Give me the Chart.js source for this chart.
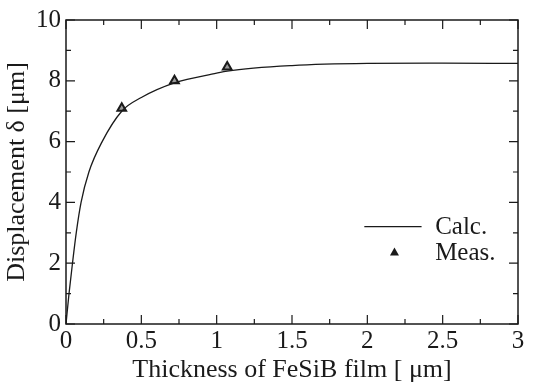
<!DOCTYPE html>
<html>
<head>
<meta charset="utf-8">
<script src="https://cdn.jsdelivr.net/npm/chart.js@4"></script>
<style>
html,body{margin:0;padding:0;background:#fff;}
#c{display:block;}
</style>
</head>
<body>
<canvas id="c" width="535" height="386"></canvas>
<script>
// Calculated curve
const calcX = [0, 0.02, 0.043, 0.068, 0.1, 0.152, 0.24, 0.37, 0.5, 0.72, 1.0, 1.07, 1.5, 2.0, 2.5, 3.0];
const calcY = [0, 1.0, 2.0, 3.0, 4.0, 5.0, 6.0, 7.0, 7.45, 7.93, 8.25, 8.32, 8.5, 8.57, 8.58, 8.57];
// Measured points
const measX = [0.37, 0.72, 1.07];
const measY = [7.1, 8.0, 8.45];
// Axis labels / series names
const xTitle = "Thickness of FeSiB film [ μm]";
const yTitle = "Displacement δ [μm]";
const seriesNames = ["Calc.", "Meas."];

const FONT = "'Liberation Serif', 'DejaVu Serif', serif";
const INK = "#1a1a1a";

const framePlugin = {
  id: 'frame',
  afterDatasetsDraw(chart) {
    const ctx = chart.ctx;
    const a = chart.chartArea;
    const xs = chart.scales.x, ys = chart.scales.y;
    ctx.save();
    ctx.strokeStyle = INK;
    ctx.lineWidth = 1.5;
    ctx.strokeRect(a.left, a.top, a.right - a.left, a.bottom - a.top);
    ctx.lineWidth = 1.2;
    ctx.beginPath();
    for (let v = 0; v <= 3.0001; v += 0.25) {
      const px = xs.getPixelForValue(v);
      const major = Math.abs(v * 2 - Math.round(v * 2)) < 1e-6;
      const L = major ? 9 : 5;
      ctx.moveTo(px, a.bottom); ctx.lineTo(px, a.bottom - L);
      ctx.moveTo(px, a.top); ctx.lineTo(px, a.top + L);
    }
    for (let v = 0; v <= 10.0001; v += 1) {
      const py = ys.getPixelForValue(v);
      const major = (Math.round(v) % 2 === 0);
      const L = major ? 9 : 5;
      ctx.moveTo(a.left, py); ctx.lineTo(a.left + L, py);
      ctx.moveTo(a.right, py); ctx.lineTo(a.right - L, py);
    }
    ctx.stroke();

    // legend
    const lx0 = xs.getPixelForValue(1.98), lx1 = xs.getPixelForValue(2.36);
    const ly0 = ys.getPixelForValue(3.2), ly1 = ys.getPixelForValue(2.37);
    const ds0 = chart.data.datasets[0];
    ctx.strokeStyle = ds0.borderColor;
    ctx.lineWidth = ds0.borderWidth;
    ctx.beginPath(); ctx.moveTo(lx0, ly0); ctx.lineTo(lx1, ly0); ctx.stroke();
    const tx = xs.getPixelForValue(2.18);
    ctx.fillStyle = INK;
    ctx.beginPath();
    ctx.moveTo(tx, ly1 - 4.5); ctx.lineTo(tx + 4.5, ly1 + 3.5); ctx.lineTo(tx - 4.5, ly1 + 3.5); ctx.closePath();
    ctx.fill();
    ctx.font = "25px " + FONT;
    ctx.textBaseline = 'middle';
    ctx.textAlign = 'left';
    const textX = xs.getPixelForValue(2.45);
    ctx.fillText(seriesNames[0], textX, ly0 + 1);
    ctx.fillText(seriesNames[1], textX, ly1 + 1);
    ctx.restore();
  }
};

new Chart(document.getElementById('c'), {
  type: 'scatter',
  data: {
    datasets: [
      {
        label: seriesNames[0],
        type: 'line',
        data: calcX.map((x, i) => ({x: x, y: calcY[i]})),
        borderColor: INK,
        borderWidth: 1.3,
        pointRadius: 0,
        fill: false,
        cubicInterpolationMode: 'monotone'
      },
      {
        label: seriesNames[1],
        data: measX.map((x, i) => ({x: x, y: measY[i]})),
        pointStyle: 'triangle',
        pointRadius: 5,
        borderColor: INK,
        borderWidth: 2,
        backgroundColor: '#9a9a9a'
      }
    ]
  },
  options: {
    responsive: false,
    animation: false,
    layout: {padding: {left: 0, right: 17, top: 16, bottom: 0}},
    plugins: {legend: {display: false}, tooltip: {enabled: false}},
    scales: {
      x: {
        type: 'linear', min: 0, max: 3,
        afterFit(s) { s.height = 62; },
        ticks: {stepSize: 0.5, color: INK, font: {family: FONT, size: 25}, padding: 2, maxRotation: 0,
                callback: v => String(v)},
        grid: {display: false, drawTicks: false},
        border: {display: false},
        title: {display: true, text: xTitle, color: INK, font: {family: FONT, size: 26}, padding: {top: 0, bottom: 0}}
      },
      y: {
        min: 0, max: 10,
        afterFit(s) { s.width = 66; },
        ticks: {stepSize: 2, color: INK, font: {family: FONT, size: 25}, padding: 5,
                callback: v => String(v)},
        grid: {display: false, drawTicks: false},
        border: {display: false},
        title: {display: true, text: yTitle, color: INK, font: {family: FONT, size: 26}, padding: {top: 2, bottom: 0}}
      }
    }
  },
  plugins: [framePlugin]
});
</script>
</body>
</html>
